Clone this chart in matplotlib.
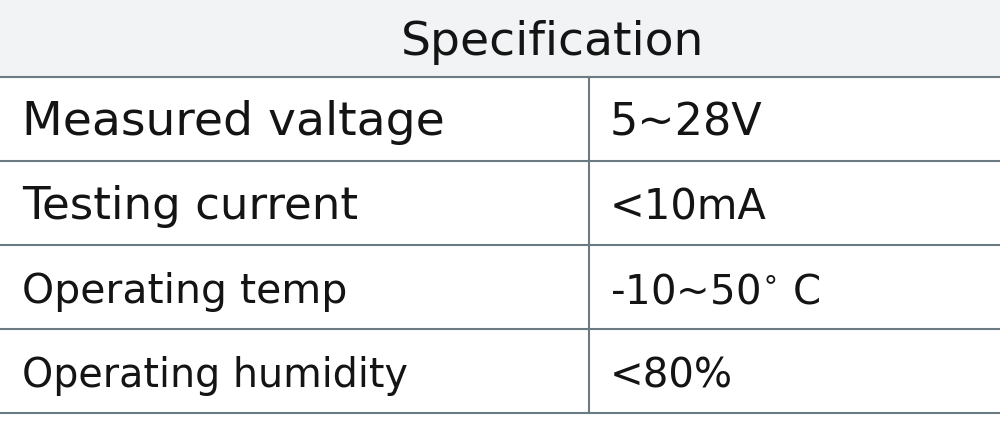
import matplotlib
matplotlib.use('Agg')
import matplotlib.pyplot as plt

# table content
title = 'Specification'
params = ['Measured valtage', 'Testing current', 'Operating temp', 'Operating humidity']
values = ['5~28V', '<10mA', '-10~50$^{\\circ}$ C', '<80%']

plt.rcParams['font.family'] = ['DejaVu Sans']
plt.rcParams['mathtext.fontset'] = 'dejavusans'

fig = plt.figure(figsize=(10, 4.21), dpi=100)
ax = fig.add_axes([0, 0, 1, 1])
ax.set_xlim(0, 1000)
ax.set_ylim(421, 0)
ax.axis('off')

line_col = '#6b7b82'
txt_col = '#141414'
head_h = 77
row_h = 84
col_x = 589

# header band
ax.axhspan(0, head_h, color='#f1f3f4', zorder=0)
ax.text(553, 55, title, ha='center', va='baseline', fontsize=34, color=txt_col)

# rows: baseline sits ~58 px below the row's top line
p_sizes = [34, 32.5, 29.5, 28.5]
v_sizes = [32, 30, 29, 29]
for i, (p, v) in enumerate(zip(params, values)):
    base = head_h + i * row_h + 58
    ax.text(22, base, p, ha='left', va='baseline', fontsize=p_sizes[i], color=txt_col)
    ax.text(610, base, v, ha='left', va='baseline', fontsize=v_sizes[i], color=txt_col)

for i in range(len(params) + 1):
    ax.axhline(head_h + i * row_h, color=line_col, lw=1.5)
ax.plot([col_x, col_x], [head_h, head_h + len(params) * row_h], color=line_col, lw=1.5)

fig.savefig('out.png', dpi=100)
